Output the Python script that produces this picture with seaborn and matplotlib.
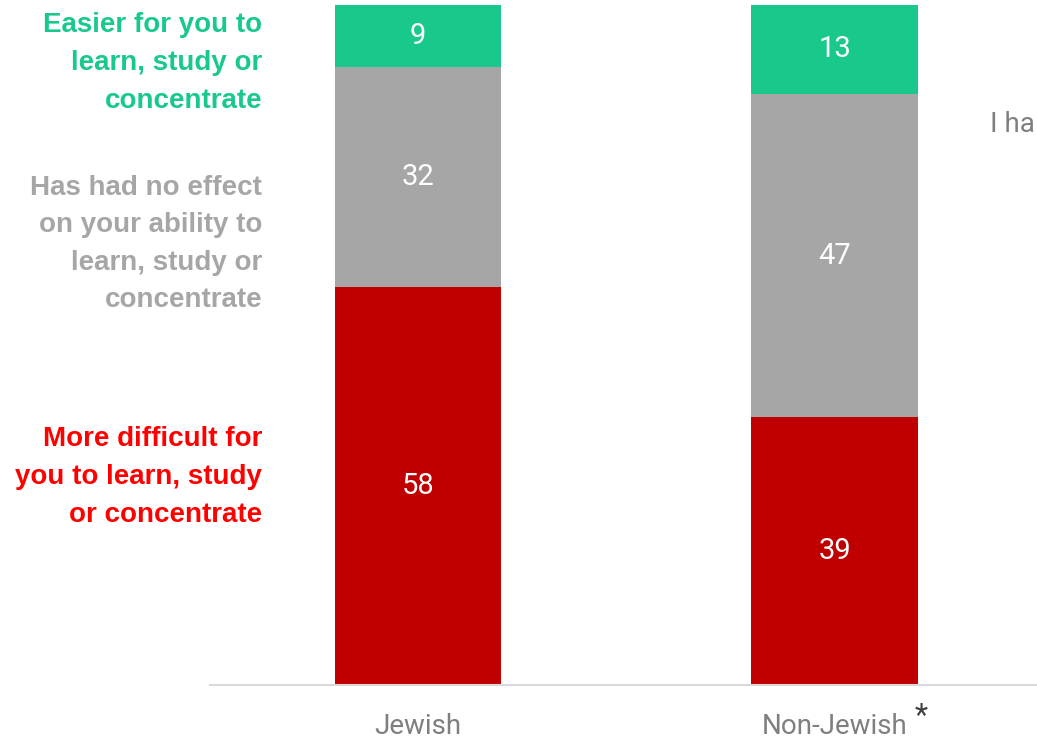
import matplotlib.pyplot as plt
import seaborn as sns
import pandas as pd

# 数据
groups = ['Jewish', 'Non-Jewish']
more_difficult = [58, 39]
no_effect = [32, 47]
easier = [9, 13]

bar_colors = ['#c00000', '#a6a6a6', '#19c98c']
label_colors = ['#ff0000', '#a6a6a6', '#19c98c']
label_texts = ['More difficult for\nyou to learn, study\nor concentrate',
               'Has had no effect\non your ability to\nlearn, study or\nconcentrate',
               'Easier for you to\nlearn, study or\nconcentrate']

df = pd.DataFrame({'group': groups, 'difficult': more_difficult,
                   'none': no_effect, 'easier': easier})
df['base_none'] = df['difficult']
df['base_easier'] = df['difficult'] + df['none']

sns.set_theme(style='white')
plt.rcParams['font.family'] = ['Roboto', 'DejaVu Sans']

W, H = 1037, 742
fig = plt.figure(figsize=(W / 100, H / 100), dpi=100)
ax = fig.add_axes([210 / W, 57 / H, 827 / W, 685 / H])

# 堆叠柱状图
cols = ['difficult', 'none', 'easier']
bases = [None, 'base_none', 'base_easier']
for col, base, color in zip(cols, bases, bar_colors):
    bottom = 0 if base is None else df[base]
    sns.barplot(data=df, x='group', y=col, bottom=bottom, color=color,
                width=0.4, saturation=1, linewidth=0, ax=ax)

# 数值标签
for i in range(len(groups)):
    b = 0
    for col in cols:
        v = df[col][i]
        ax.text(i, b + v / 2, str(v), ha='center', va='center',
                color='white', fontsize=21)
        b += v

ax.set_xlim(-0.5, 1.486)
ax.set_ylim(0, 99.7)
ax.set_xlabel('')
ax.set_ylabel('')
ax.set_yticks([])
ax.set_xticks([0, 1])
ax.set_xticklabels(groups, color='#7f7f7f', fontsize=20)
ax.tick_params(axis='x', length=0, pad=20)
sns.despine(ax=ax, left=True, right=True, top=True)
ax.spines['bottom'].set_color('#d9d9d9')
ax.spines['bottom'].set_linewidth(1.5)

# 星号
fig.text(915 / W, 1 - 716 / H, '*', color='#404040', fontsize=22,
         ha='left', va='center')

# 左侧图例标签
label_y = [477, 244, 63]
for txt, c, y in zip(label_texts, label_colors, label_y):
    fig.text(262 / W, 1 - y / H, txt, color=c, fontsize=20, fontweight='bold',
             ha='right', va='center', linespacing=1.58,
             family=['Liberation Sans', 'DejaVu Sans'])

# 右侧被裁切的标签
fig.text(990 / W, 1 - 124 / H, 'I ha', color='#7f7f7f',
         fontsize=20, ha='left', va='center')

fig.savefig('out.png', dpi=100)
